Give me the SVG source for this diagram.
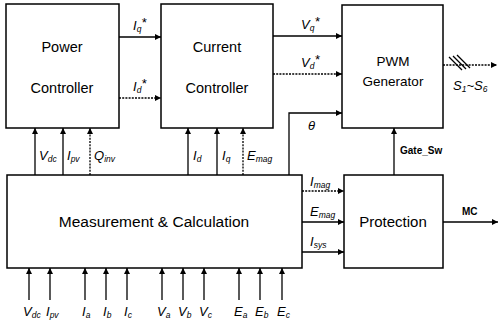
<svg xmlns="http://www.w3.org/2000/svg" width="499" height="321" viewBox="0 0 499 321">
<defs>
<marker id="ah" viewBox="0 0 10 10" refX="10" refY="5" markerWidth="6" markerHeight="6" orient="auto" markerUnits="userSpaceOnUse"><path d="M0,0 L10,5 L0,10 z" fill="#000"/></marker>
<style>
.box{fill:#fff;stroke:#000;stroke-width:1.5}
.t{font-family:"Liberation Sans",Arial,sans-serif;font-size:14.5px;fill:#000;text-anchor:middle}
.l{font-family:"Liberation Sans",Arial,sans-serif;font-size:13px;font-style:italic;fill:#000}
.s{font-size:8.5px}
.b{font-family:"Liberation Sans",Arial,sans-serif;font-size:10px;font-weight:bold;fill:#000}
.c{stroke:#000;stroke-width:1.3;fill:none}
.a{marker-end:url(#ah)}
.d{stroke-dasharray:2,1.2}
</style>
</defs>
<rect width="499" height="321" fill="#fff"/>
<g id="power-controller"><rect class="box" x="6" y="4" width="113" height="124"/><text class="t" x="62" y="52">Power</text><text class="t" x="62" y="93">Controller</text></g>
<g id="current-controller"><rect class="box" x="161" y="4" width="112" height="124"/><text class="t" x="217" y="52">Current</text><text class="t" x="217" y="93">Controller</text></g>
<g id="pwm-generator"><rect class="box" x="342" y="5" width="101" height="123"/><text class="t" x="393" y="66" style="font-size:13.5px">PWM</text><text class="t" x="393" y="86" style="font-size:13.5px">Generator</text></g>
<g id="measurement"><rect class="box" x="7" y="175" width="295" height="93"/><text class="t" x="154" y="227" style="font-size:15.5px">Measurement &amp; Calculation</text></g>
<g id="protection"><rect class="box" x="344" y="175" width="99" height="93"/><text class="t" x="393" y="227" style="font-size:15px">Protection</text></g>
<g id="connectors">
<path class="c a" d="M119,37 H161"/>
<path class="c a d" d="M119,98 H161"/>
<path class="c a" d="M273,36 H342"/>
<path class="c a d" d="M273,74 H342"/>
<path class="c a" d="M289,175 V113 H342"/>
<path class="c a" d="M394,175 V128"/>
<path class="c a d" d="M443,65 H497"/>
<path class="c" d="M449,57 L462,70 M453,56 L466,69 M457,55 L470,68"/>
<path class="c a" d="M35,175 V128"/>
<path class="c a" d="M63,175 V128"/>
<path class="c a d" d="M90,175 V128"/>
<path class="c a" d="M188,175 V128"/>
<path class="c a" d="M217,175 V128"/>
<path class="c a d" d="M243,175 V128"/>
<path class="c a d" d="M302,191 H344"/>
<path class="c a" d="M302,222 H344"/>
<path class="c a" d="M302,252 H344"/>
<path class="c a" d="M443,222 H498"/>
<path class="c a" d="M29,300 V268"/>
<path class="c a" d="M50,300 V268"/>
<path class="c a" d="M85,300 V268"/>
<path class="c a" d="M106,300 V268"/>
<path class="c a" d="M127,300 V268"/>
<path class="c a" d="M162,300 V268"/>
<path class="c a" d="M183,300 V268"/>
<path class="c a" d="M204,300 V268"/>
<path class="c a" d="M239,300 V268"/>
<path class="c a" d="M260,300 V268"/>
<path class="c a" d="M282,300 V268"/>
</g>
<g id="labels">
<text class="l" x="133" y="30">I<tspan class="s" dy="2">q</tspan><tspan dy="-5">*</tspan></text>
<text class="l" x="133" y="91">I<tspan class="s" dy="2">d</tspan><tspan dy="-5">*</tspan></text>
<text class="l" x="301" y="29">V<tspan class="s" dy="2">q</tspan><tspan dy="-5">*</tspan></text>
<text class="l" x="301" y="67">V<tspan class="s" dy="2">d</tspan><tspan dy="-5">*</tspan></text>
<text class="l" x="308" y="130">θ</text>
<text class="b" x="400" y="154">Gate_Sw</text>
<text class="l" x="453" y="90">S<tspan class="s" dy="2">1</tspan><tspan dy="-2">~S</tspan><tspan class="s" dy="2">6</tspan></text>
<text class="l" x="39" y="160">V<tspan class="s" dy="2">dc</tspan></text>
<text class="l" x="67" y="160">I<tspan class="s" dy="2">pv</tspan></text>
<text class="l" x="94" y="160">Q<tspan class="s" dy="2">inv</tspan></text>
<text class="l" x="193" y="160">I<tspan class="s" dy="2">d</tspan></text>
<text class="l" x="222" y="160">I<tspan class="s" dy="2">q</tspan></text>
<text class="l" x="247" y="160">E<tspan class="s" dy="2">mag</tspan></text>
<text class="l" x="310" y="186">I<tspan class="s" dy="2">mag</tspan></text>
<text class="l" x="310" y="216">E<tspan class="s" dy="2">mag</tspan></text>
<text class="l" x="310" y="246">I<tspan class="s" dy="2">sys</tspan></text>
<text class="b" x="462" y="215">MC</text>
<text class="l" x="23" y="316">V<tspan class="s" dy="2">dc</tspan></text>
<text class="l" x="46" y="316">I<tspan class="s" dy="2">pv</tspan></text>
<text class="l" x="82" y="316">I<tspan class="s" dy="2">a</tspan></text>
<text class="l" x="103" y="316">I<tspan class="s" dy="2">b</tspan></text>
<text class="l" x="124" y="316">I<tspan class="s" dy="2">c</tspan></text>
<text class="l" x="157" y="316">V<tspan class="s" dy="2">a</tspan></text>
<text class="l" x="178" y="316">V<tspan class="s" dy="2">b</tspan></text>
<text class="l" x="199" y="316">V<tspan class="s" dy="2">c</tspan></text>
<text class="l" x="234" y="316">E<tspan class="s" dy="2">a</tspan></text>
<text class="l" x="255" y="316">E<tspan class="s" dy="2">b</tspan></text>
<text class="l" x="277" y="316">E<tspan class="s" dy="2">c</tspan></text>
</g>
</svg>
